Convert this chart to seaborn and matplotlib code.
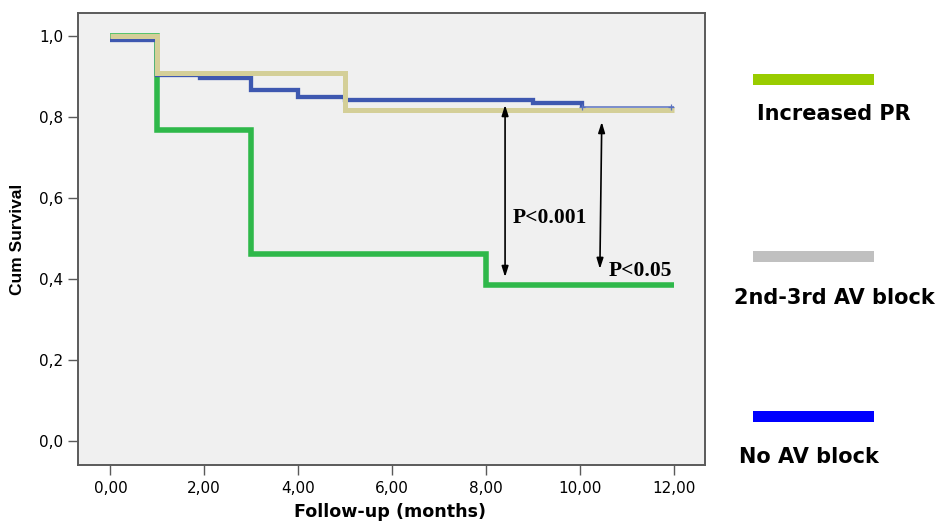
import matplotlib
matplotlib.use("Agg")
import matplotlib.pyplot as plt
from matplotlib.patches import Rectangle
from matplotlib.ticker import FuncFormatter
import seaborn as sns
import pandas as pd

# ---- data ----
months_pr = [0, 1, 3, 8, 12]
surv_pr = [1.0, 0.769, 0.462, 0.385, 0.385]

months_avb = [0, 1, 5, 12]
surv_avb = [1.0, 0.909, 0.818, 0.818]

months_no = [0, 1, 1.9, 3, 4, 5, 9, 10.05, 12]
surv_no = [0.99, 0.904, 0.896, 0.867, 0.85, 0.842, 0.834, 0.825, 0.825]
censor_no_t = [10.05, 11.95]
censor_no_s = [0.825, 0.825]

legend_labels = ["Increased PR", "2nd-3rd AV block", "No AV block"]
legend_colors = ["#99cc00", "#c0c0c0", "#0000ff"]

x_ticks = [0, 2, 4, 6, 8, 10, 12]
y_ticks = [0.0, 0.2, 0.4, 0.6, 0.8, 1.0]

# annotation positions (data coords)
arrow1 = ((8.41, 0.83), (8.41, 0.405))
arrow2 = ((10.47, 0.788), (10.43, 0.425))
ptext1 = (8.58, 0.551, "P<0.001")
ptext2 = (10.62, 0.42, "P<0.05")

df_pr = pd.DataFrame({"t": months_pr, "s": surv_pr})
df_avb = pd.DataFrame({"t": months_avb, "s": surv_avb})
df_no = pd.DataFrame({"t": months_no, "s": surv_no})
df_no_thick = df_no[df_no["t"] <= 10.05]
df_no_thin = df_no[df_no["t"] >= 10.05]

sns.set_style("ticks")
plt.rcParams["font.family"] = ["DejaVu Sans"]

fig = plt.figure(figsize=(9.41, 5.22), dpi=100)
W, H = 941, 522
ax = fig.add_axes([78 / W, 1 - 465 / H, (705 - 78) / W, (465 - 13) / H])
ax.set_facecolor("#f0f0f0")

line_kw = dict(drawstyle="steps-post", estimator=None, sort=True,
               solid_capstyle="butt", solid_joinstyle="miter", legend=False)

sns.lineplot(data=df_pr, x="t", y="s", ax=ax, color="#2fb84a", linewidth=4.0, **line_kw)
sns.lineplot(data=df_no_thick, x="t", y="s", ax=ax, color="#3e58b0", linewidth=3.1, **line_kw)
sns.lineplot(data=df_avb, x="t", y="s", ax=ax, color="#d4cf98", linewidth=3.6, **line_kw)
sns.lineplot(data=df_no_thin, x="t", y="s", ax=ax, color="#5a72c0", linewidth=1.1, **line_kw)
sns.scatterplot(x=censor_no_t, y=censor_no_s, ax=ax, marker="+", s=20,
                color="#5a72c0", linewidth=0.9, legend=False, zorder=5)

ax.set_xlim(-0.69, 12.67)
ax.set_ylim(-0.059, 1.057)
ax.set_xticks(x_ticks)
ax.set_yticks(y_ticks)
ax.xaxis.set_major_formatter(FuncFormatter(lambda v, p: f"{v:.2f}".replace(".", ",")))
ax.yaxis.set_major_formatter(FuncFormatter(lambda v, p: f"{v:.1f}".replace(".", ",")))

for sp in ax.spines.values():
    sp.set_color("#5a5a5a")
    sp.set_linewidth(1.4)
    sp.set_visible(True)

ax.tick_params(axis="both", direction="out", length=7.5, width=1.0, color="#5a5a5a",
               labelsize=11, labelcolor="black", pad=3)
ax.tick_params(axis="x", pad=4)

ax.set_xlabel("Follow-up (months)", fontsize=12.6, fontweight="bold",
              family="DejaVu Sans", color="black")
ax.set_ylabel("Cum Survival", fontsize=12.5, fontweight="bold",
              family="Liberation Sans", color="black")
ax.xaxis.set_label_coords(0.498, (465 - 503) / 452)
ax.yaxis.set_label_coords((25 - 78) / 627, 0.5)

# arrows and p-values
for (a, b) in (arrow1, arrow2):
    ax.annotate("", xy=b, xytext=a,
                arrowprops=dict(arrowstyle="<|-|>,head_length=0.7,head_width=0.22",
                                mutation_scale=9, color="black", lw=1.2,
                                shrinkA=0, shrinkB=0))
for (x, y, t) in (ptext1, ptext2):
    ax.text(x, y, t, ha="left", va="center", fontsize=15.5, fontweight="bold",
            family="Liberation Serif", color="black")

# legend outside on the right
bar_y = [80, 256, 416.5]
text_pos = [(834, 114), (834.5, 298), (809, 457)]
for lab, col, by, (tx, ty) in zip(legend_labels, legend_colors, bar_y, text_pos):
    fig.add_artist(Rectangle((753 / W, 1 - (by + 5.5) / H), 121 / W, 11 / H,
                             transform=fig.transFigure, color=col, lw=0))
    fig.text(tx / W, 1 - ty / H, lab, ha="center", va="center", fontsize=15,
             fontweight="bold", family="DejaVu Sans", color="black")

fig.savefig("out.png", dpi=100, facecolor="white")
